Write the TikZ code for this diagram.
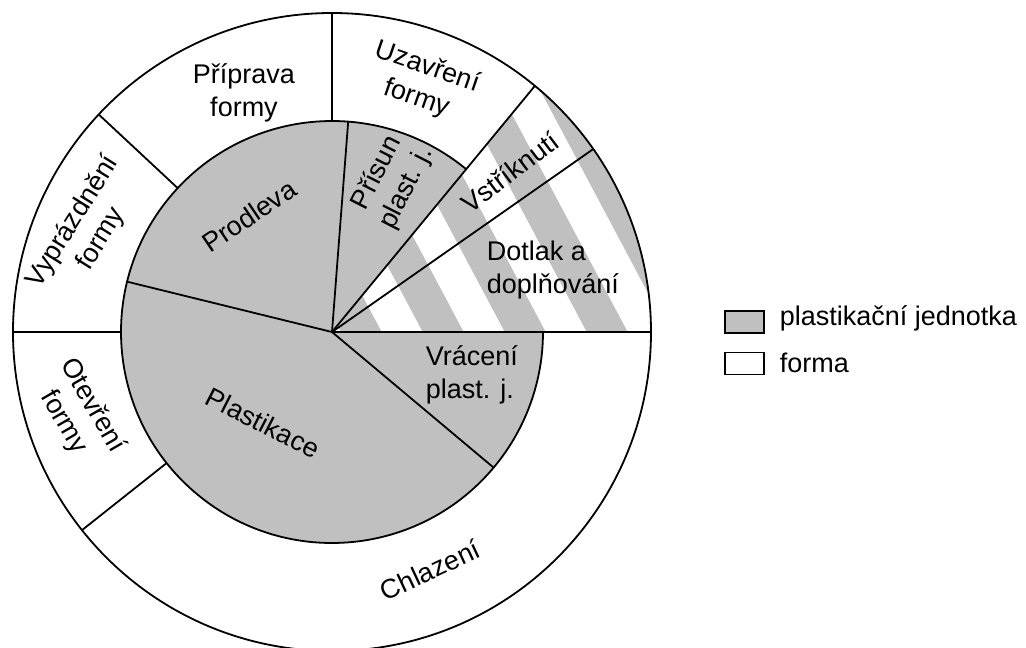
\documentclass[tikz,border=0pt]{standalone}
\usepackage{fontspec}
\setmainfont{Liberation Sans}
\definecolor{pgray}{RGB}{192,192,192}
\begin{document}
\begin{tikzpicture}[x=1pt,y=1pt,line width=1.8pt,
  lbl/.style={font=\fontsize{27}{33}\selectfont, inner sep=0pt, align=center},
  lblleft/.style={font=\fontsize{27}{33}\selectfont, inner sep=0pt, align=left, anchor=west},
  legbox/.style={draw, minimum width=39pt, minimum height=22pt, inner sep=0pt}]
\useasboundingbox (-332,-316) rectangle (694,332);
\fill[white] (-332,-316) rectangle (694,332);
% hatched sector (Vstriknuti + Dotlak)
\begin{scope}
  \clip (0,0) -- (0:319) arc[start angle=0,end angle=50.5,radius=319] -- cycle;
  \fill[pgray] (-10,-10) rectangle (330,330);
  \begin{scope}[rotate=28]
    \foreach \k in {-2,...,5} {\fill[white] ({44+72.4*\k},-420) rectangle ({80+72.4*\k},420);}
  \end{scope}
\end{scope}
% inner gray part (plastikacni jednotka)
\fill[pgray] (0,0) -- (50.5:211) arc[start angle=50.5,end angle=360,radius=211] -- cycle;
% outlines
\draw (0,0) circle[radius=319];
\draw (50.5:211) arc[start angle=50.5,end angle=360,radius=211];
\draw (0,0) -- (50.5:319);
\draw (0,0) -- (35:319);
\draw (0,0) -- (0:319);
\draw (0,0) -- (85.6:211);
\draw (0,0) -- (166.2:211);
\draw (0,0) -- (-40:211);
\draw (90:211) -- (90:319);
\draw (137:211) -- (137:319);
\draw (180:211) -- (180:319);
\draw (218.4:211) -- (218.4:319);
% labels
\node[lbl] (pripr) at (-88,239) {Příprava\\formy};
\node[lbl,rotate=-19] (uzav) at (90,249) {Uzavření\\formy};
\node[lbl,rotate=37] (vstr) at (178,160) {Vstříknutí};
\node[lblleft] (dotl) at (154,62) {Dotlak a\\doplňování};
\node[lbl,rotate=63] (prisun) at (60,151.5) {Přísun\\plast. j.};
\node[lbl,rotate=34] (prodl) at (-83,116) {Prodleva};
\node[lbl,rotate=58] (vypr) at (-245,101.5) {Vyprázdnění\\formy};
\node[lbl,rotate=-60] (otev) at (-254,-82) {Otevření\\formy};
\node[lbl,rotate=-27] (plast) at (-69,-91) {Plastikace};
\node[lblleft] (vrac) at (93,-43) {Vrácení\\plast. j.};
\node[lbl,rotate=25] (chlaz) at (98,-238) {Chlazení};
% legend
\node[legbox,fill=pgray] (lg1) at (412.5,10) {};
\node[legbox,fill=white] (lg2) at (412.5,-31.5) {};
\node[font=\fontsize{27}{33}\selectfont, inner sep=0pt, anchor=base west] (lt1) at (447,6) {plastikační jednotka};
\node[font=\fontsize{27}{33}\selectfont, inner sep=0pt, anchor=base west] (lt2) at (447,-40) {forma};
\end{tikzpicture}
\end{document}
